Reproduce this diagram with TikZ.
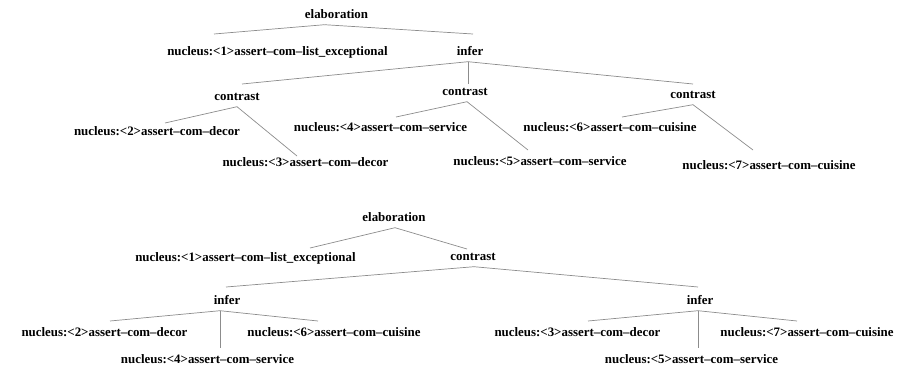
\documentclass[tikz,border=0pt]{standalone}
\usepackage{fontspec}
\setmainfont{Liberation Serif}
\usepackage{xcolor}
\usepackage{tikz}
\usetikzlibrary{positioning}

\definecolor{edgegray}{RGB}{140,140,140}
\tikzset{
  rel/.style={font=\fontsize{12.9}{15}\selectfont\bfseries,inner sep=3.5pt,text height=9pt,text depth=3pt},
  edge/.style={draw=edgegray,line width=0.7pt}
}

\begin{document}
\begin{tikzpicture}[x=1pt,y=-1pt]
    \useasboundingbox (0,0) rectangle (912,367);
    % first tree
    \node[rel](el1) at (336.5,15){elaboration};
    \node[rel](nuA1) at (277.5,52){nucleus:<1>assert--com--list\_exceptional};
    \node[rel](inf1) at (470,52){infer};
    \node[rel](conA) at (237,97){contrast};
    \node[rel](conB) at (465,92){contrast};
    \node[rel](conC) at (693,95){contrast};
    \node[rel](nuA2) at (157,132){nucleus:<2>assert--com--decor};
    \node[rel](nuA3) at (305.5,163){nucleus:<3>assert--com--decor};
    \node[rel](nuA4) at (380.5,128){nucleus:<4>assert--com--service};
    \node[rel](nuA5) at (540,162){nucleus:<5>assert--com--service};
    \node[rel](nuA6) at (610,128){nucleus:<6>assert--com--cuisine};
    \node[rel](nuA7) at (769,166){nucleus:<7>assert--com--cuisine};
    \draw[edge]([xshift=-12pt]el1.south)--([shift={(-63.5,-18)}]nuA1.center);
    \draw[edge]([xshift=-12pt]el1.south)--([shift={(3,-18)}]inf1.center);
    \draw[edge]([xshift=-2pt]inf1.south)--([shift={(5,-13)}]conA.center);
    \draw[edge]([xshift=-2pt]inf1.south)--([shift={(3,-8)}]conB.center);
    \draw[edge]([xshift=-2pt]inf1.south)--([shift={(0,-11)}]conC.center);
    \draw[edge](conA.south)--([shift={(8,-9)}]nuA2.center);
    \draw[edge](conA.south)--([shift={(-8.5,-7)}]nuA3.center);
    \draw[edge]([xshift=2pt]conB.south)--([shift={(15.5,-11)}]nuA4.center);
    \draw[edge]([xshift=2pt]conB.south)--([shift={(-12,-12)}]nuA5.center);
    \draw[edge](conC.south)--([shift={(12,-11)}]nuA6.center);
    \draw[edge](conC.south)--([shift={(-16,-16)}]nuA7.center);
    % second tree
    \node[rel](el2) at (394,218){elaboration};
    \node[rel](nuB1) at (245.5,258){nucleus:<1>assert--com--list\_exceptional};
    \node[rel](con2) at (473,257){contrast};
    \node[rel](infL) at (227,301){infer};
    \node[rel](infR) at (700,301){infer};
    \node[rel](nuB2) at (104.5,333){nucleus:<2>assert--com--decor};
    \node[rel](nuB6) at (334,333){nucleus:<6>assert--com--cuisine};
    \node[rel](nuB4) at (207.5,360){nucleus:<4>assert--com--service};
    \node[rel](nuB3) at (577.5,333){nucleus:<3>assert--com--decor};
    \node[rel](nuB7) at (807,333){nucleus:<7>assert--com--cuisine};
    \node[rel](nuB5) at (691.5,360){nucleus:<5>assert--com--service};
    \draw[edge]([xshift=1pt]el2.south)--([shift={(64.5,-10)}]nuB1.center);
    \draw[edge]([xshift=1pt]el2.south)--([shift={(-6,-8)}]con2.center);
    \draw[edge]([xshift=1pt]con2.south)--([shift={(-1,-14)}]infL.center);
    \draw[edge]([xshift=1pt]con2.south)--([shift={(-2,-14)}]infR.center);
    \draw[edge]([xshift=-7pt]infL.south)--([shift={(5.5,-12)}]nuB2.center);
    \draw[edge]([xshift=-7pt]infL.south)--([shift={(-16,-12)}]nuB6.center);
    \draw[edge]([xshift=-7pt]infL.south)--([shift={(12.5,-12)}]nuB4.center);
    \draw[edge]([xshift=-2pt]infR.south)--([shift={(10.5,-12)}]nuB3.center);
    \draw[edge]([xshift=-2pt]infR.south)--([shift={(-10,-12)}]nuB7.center);
    \draw[edge]([xshift=-2pt]infR.south)--([shift={(6.5,-12)}]nuB5.center);
  \end{tikzpicture}
\end{document}
